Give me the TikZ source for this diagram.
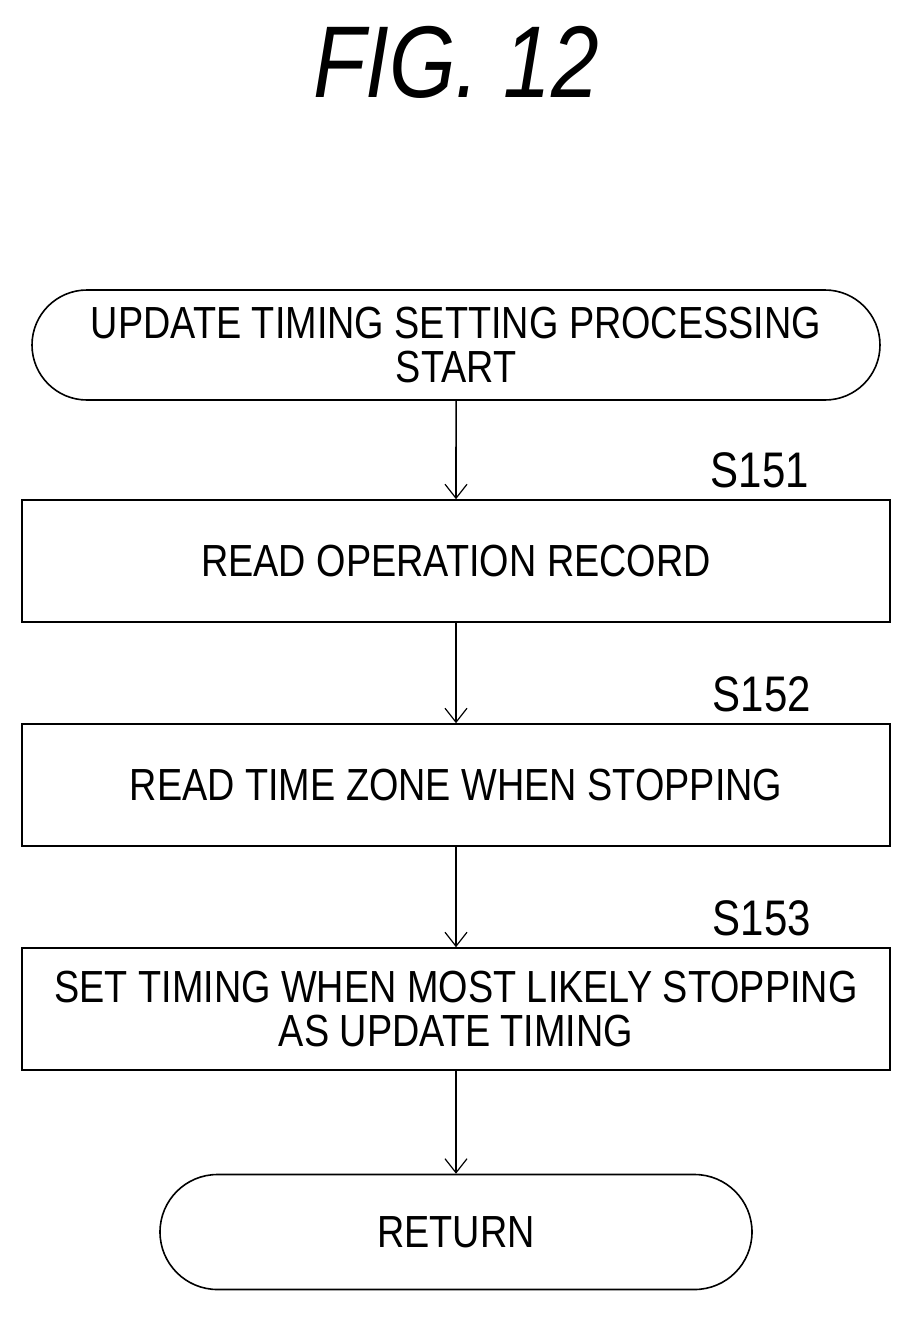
\documentclass[tikz,border=0pt]{standalone}
\usepackage{fontspec}
\setmainfont{Liberation Sans}[FakeStretch=0.84]
\usetikzlibrary{arrows.meta,shapes.misc}
\begin{document}
\begin{tikzpicture}[x=1pt,y=-1pt,
  box/.style={draw,line width=1.6pt,rectangle,minimum width=868pt,minimum height=122pt,align=center,font=\fontsize{45}{44}\selectfont,inner sep=0pt},
  term/.style={draw,line width=1.6pt,rounded rectangle,align=center,font=\fontsize{45}{44}\selectfont,inner sep=0pt},
  lab/.style={font=\fontsize{50}{50}\selectfont,inner sep=0pt},
  arr/.style={line width=1.6pt,-{Straight Barb[length=14pt,width=22pt,line width=1.2pt]}}]
\useasboundingbox (0,0) rectangle (913,1317);
\node[font=\fontsize{102}{102}\selectfont\itshape,inner sep=0pt] (title) at (456,62) {FIG. 12};
\node[term,minimum width=848pt,minimum height=110pt] (start) at (456,345) {UPDATE TIMING SETTING PROCESSING\\START};
\node[box] (b1) at (456,561) {READ OPERATION RECORD};
\node[box] (b2) at (456,785) {READ TIME ZONE WHEN STOPPING};
\node[box] (b3) at (456,1009) {SET TIMING WHEN MOST LIKELY STOPPING\\AS UPDATE TIMING};
\node[term,minimum width=592pt,minimum height=115pt] (ret) at (456,1232) {RETURN};
\node[lab] (s1) at (760,470) {S151};
\node[lab] (s2) at (762,694) {S152};
\node[lab] (s3) at (762,918) {S153};
\draw[arr] (start) -- (b1);
\draw[arr] (b1) -- (b2);
\draw[arr] (b2) -- (b3);
\draw[arr] (b3) -- (ret);
\end{tikzpicture}
\end{document}
